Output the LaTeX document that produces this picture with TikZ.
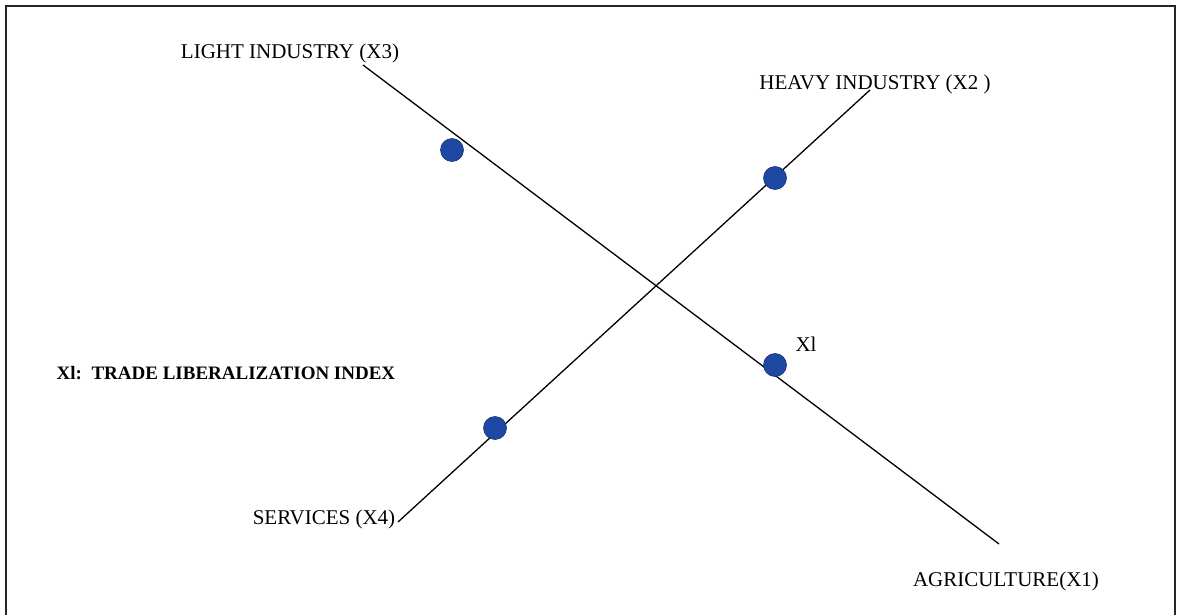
\documentclass[tikz,border=0pt]{standalone}
\usepackage{fontspec}
\setmainfont{Liberation Serif}
\definecolor{dotblue}{RGB}{30,72,162}
\begin{document}
\begin{tikzpicture}[x=1pt,y=-1pt,
  lab/.style={inner sep=0pt,font=\fontsize{21}{24}\selectfont},
  dotnode/.style={circle,fill=dotblue,draw=dotblue!70!black,line width=0.6pt,
    minimum width=21pt,minimum height=23pt,inner sep=0pt}]
\useasboundingbox (0,0) rectangle (1178,615);
% open frame (no bottom edge)
\draw[line width=2.6pt,black!85] (6,615) -- (6,6) -- (1175,6) -- (1175,615);
% axis labels
\node[lab] (x3) at (290,53) {LIGHT INDUSTRY (X3)};
\node[lab] (x2) at (875,84) {HEAVY INDUSTRY (X2 )};
\node[lab] (x4) at (324,519) {SERVICES (X4)};
\node[lab] (x1) at (1006,581) {AGRICULTURE(X1)};
\node[inner sep=0pt,font=\fontsize{19}{22}\selectfont\bfseries] (idx) at (226,373)
  {Xl:\ \ TRADE LIBERALIZATION INDEX};
% axis end points
\coordinate (a3) at (363,65);
\coordinate (a1) at (999,544);
\coordinate (a4) at (398,522);
\coordinate (a2) at (870,90);
% the two axes
\draw[line width=1.3pt] (a3) -- (a1);
\draw[line width=1.3pt] (a4) -- (a2);
% points on the axes
\node[dotnode] (p3) at (452,150) {};
\node[dotnode] (p2) at (775,178) {};
\node[dotnode] (p1) at (775,365) {};
\node[dotnode] (p4) at (495,428) {};
\node[lab] (xt) at (806,344) {Xl};
\end{tikzpicture}
\end{document}
